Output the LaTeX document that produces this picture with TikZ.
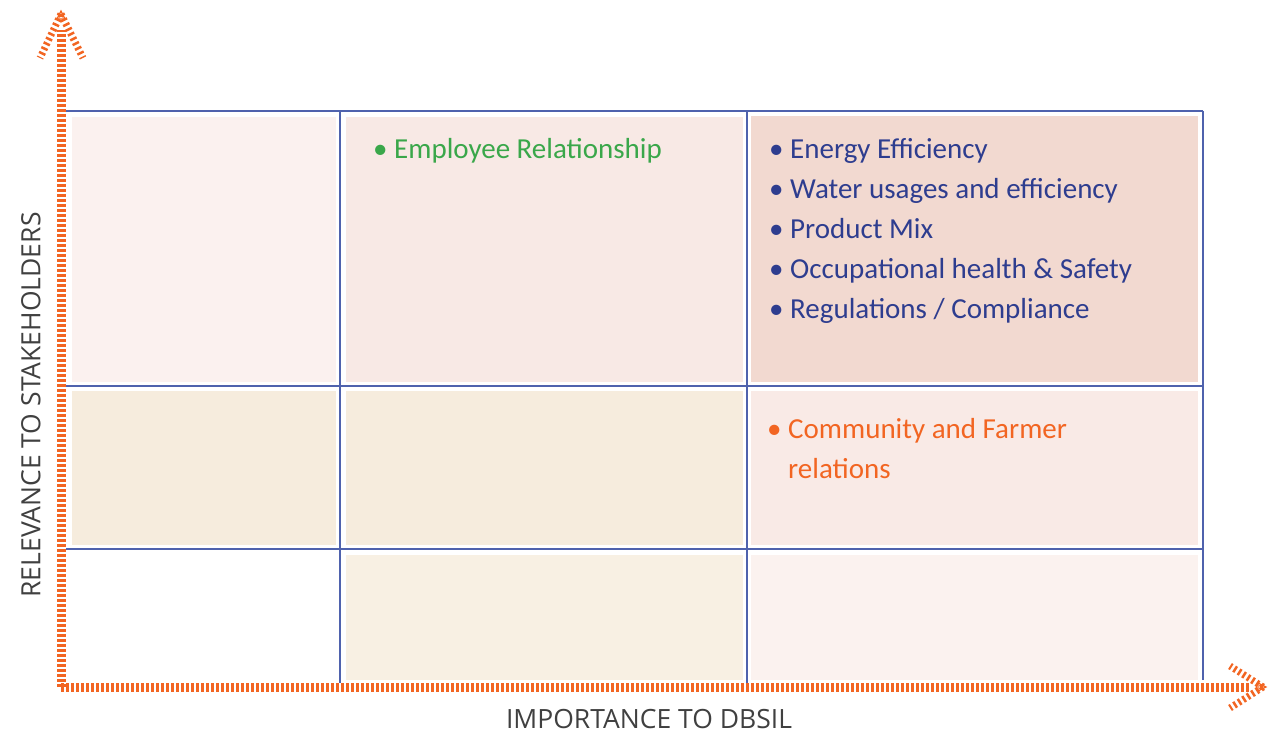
\documentclass[tikz,border=0pt]{standalone}
\usepackage{fontspec}
\setmainfont{Carlito}
\newfontfamily\axisfont{Open Sans}
\definecolor{gridblue}{HTML}{4F62AD}
\definecolor{axisorange}{HTML}{F26522}
\definecolor{txtblue}{HTML}{2E3D8F}
\definecolor{txtgreen}{HTML}{3AA74A}
\definecolor{txtorange}{HTML}{F26522}
\definecolor{cA}{HTML}{FBF1EF}
\definecolor{cB}{HTML}{F8E9E5}
\definecolor{cC}{HTML}{F2D9D0}
\definecolor{cD}{HTML}{F6ECDD}
\definecolor{cE}{HTML}{F9EAE6}
\definecolor{cF}{HTML}{F8F0E3}
\definecolor{cG}{HTML}{FBF2EF}
\tikzset{
  gridline/.style={draw=gridblue, line width=1.4pt},
  axisshaft/.style={draw=axisorange, line width=9pt, dash pattern=on 2.6pt off 2.4pt},
  axishead/.style={draw=axisorange, line width=7pt, dash pattern=on 2.5pt off 2.8pt},
  item/.style={anchor=base west, inner sep=0pt, font=\fontsize{29}{34}\selectfont},
  axislabel/.style={inner sep=0pt, text=black!75, font=\axisfont\fontsize{26.5}{30}\selectfont}
}
\begin{document}
\begin{tikzpicture}[x=1pt,y=-1pt]
\useasboundingbox (0,0) rectangle (1268,733);
% cell fills
\fill[cA] (72,117) rectangle (336,382);
\fill[cB] (346,117) rectangle (743,382);
\fill[cC] (751,116) rectangle (1198,382);
\fill[cD] (72,391) rectangle (336,545);
\fill[cD] (346,391) rectangle (743,545);
\fill[cE] (751,391) rectangle (1198,545);
\fill[cF] (346,555) rectangle (743,680);
\fill[cG] (751,555) rectangle (1198,680);
% grid
\draw[gridline] (66,111) -- (1203,111);
\draw[gridline] (66,386) -- (1203,386);
\draw[gridline] (66,549) -- (1203,549);
\draw[gridline] (340,111) -- (340,683);
\draw[gridline] (747,111) -- (747,683);
\draw[gridline] (1203,111) -- (1203,680);
% axes
\coordinate (O) at (61,687);
\coordinate (ytip) at (61,14);
\coordinate (yl) at (40,58);
\coordinate (yr) at (83,58);
\coordinate (xtip) at (1263,687);
\coordinate (xu) at (1230,666);
\coordinate (xd) at (1230,708);
\draw[axisshaft] (O) -- (61,30);
\draw[axisshaft] (O) -- (1250,687);
\draw[axishead] (ytip) -- (yl);
\draw[axishead] (ytip) -- (yr);
\draw[axishead] (xtip) -- (xu);
\draw[axishead] (xtip) -- (xd);
\draw[axisorange, line width=1.2pt] (61,11) -- (57,19) -- (65,19) -- cycle;
\draw[axisorange, line width=1.2pt] (1266,687) -- (1258,683) -- (1258,691) -- cycle;
% texts
\node[item, text=txtgreen] (emp) at (373,158) {• Employee Relationship};
\node[item, text=txtblue] (t1) at (769,158) {• Energy Efficiency};
\node[item, text=txtblue] (t2) at (769,198) {• Water usages and efficiency};
\node[item, text=txtblue] (t3) at (769,238) {• Product Mix};
\node[item, text=txtblue] (t4) at (769,278) {• Occupational health \& Safety};
\node[item, text=txtblue] (t5) at (769,318) {• Regulations / Compliance};
\node[item, text=txtorange] (c1) at (767,438) {• Community and Farmer};
\node[item, text=txtorange] (c2) at (788,478) {relations};
\node[axislabel] (xlab) at (649,719) {IMPORTANCE TO DBSIL};
\node[axislabel, rotate=90] (ylab) at (31,405) {RELEVANCE TO STAKEHOLDERS};
\end{tikzpicture}
\end{document}
